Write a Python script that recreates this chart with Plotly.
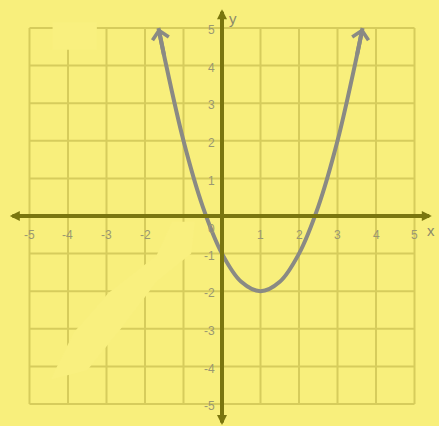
import plotly.graph_objects as go

# Data
grid_values = [-5, -4, -3, -2, -1, 0, 1, 2, 3, 4, 5]
x_tick_values = [-5, -4, -3, -2, 1, 2, 3, 4, 5]
x_tick_labels = ["-5", "-4", "-3", "-2", "1", "2", "3", "4", "5"]
y_tick_values = [5, 4, 3, 2, 1, -1, -2, -3, -4, -5]
y_tick_labels = ["5", "4", "3", "2", "1", "-1", "-2", "-3", "-4", "-5"]

curve_x = [-1.65, -1.5, -1.0, -0.5, 0.0, 0.5, 1.0, 1.5, 2.0, 2.5, 3.0, 3.5, 3.65]
curve_y = [5.0, 4.25, 2.0, 0.25, -1.0, -1.75, -2.0, -1.75, -1.0, 0.25, 2.0, 4.25, 5.0]

x_axis_extent = [-5.55, 5.45]
y_axis_extent = [-5.6, 5.5]

# faded (erased) patches of the grid seen in the picture
patch_band_x = [-0.7, -0.8, -1.7, -2.55, -3.5, -4.45, -3.85, -2.95, -1.7, -1.3]
patch_band_y = [-0.15, -1.0, -1.75, -2.9, -4.1, -4.35, -3.1, -2.05, -1.05, -0.15]
patch_box_x = [-4.4, -3.25]
patch_box_y = [4.42, 5.15]

BG = "#f8ef7c"
PATCH = "#f9f07f"
GRID = "#d6cc5c"
AXIS = "#7a760f"
CURVE = "#8a8a84"
LABEL = "#9a9872"

fig = go.Figure()

shapes = []
for v in grid_values:
    shapes.append(dict(type="line", x0=v, x1=v, y0=grid_values[0], y1=grid_values[-1],
                       xref="x", yref="y", line=dict(color=GRID, width=2), layer="below"))
    shapes.append(dict(type="line", y0=v, y1=v, x0=grid_values[0], x1=grid_values[-1],
                       xref="x", yref="y", line=dict(color=GRID, width=2), layer="below"))

band_path = "M " + " L ".join(f"{x},{y}" for x, y in zip(patch_band_x, patch_band_y)) + " Z"
shapes.append(dict(type="path", path=band_path, xref="x", yref="y", fillcolor=PATCH,
                   line=dict(width=0), layer="below"))
shapes.append(dict(type="rect", x0=patch_box_x[0], x1=patch_box_x[1], y0=patch_box_y[0], y1=patch_box_y[1],
                   xref="x", yref="y", fillcolor=PATCH, line=dict(width=0), layer="below"))

fig.add_trace(go.Scatter(x=curve_x, y=curve_y, mode="lines", line=dict(color=CURVE, width=4, shape="spline"),
                         hoverinfo="skip", showlegend=False))

annotations = []
# axes with arrows on both ends
annotations.append(dict(x=x_axis_extent[1], y=0, ax=x_axis_extent[0], ay=0, xref="x", yref="y",
                        axref="x", ayref="y", text="", showarrow=True, arrowside="end+start",
                        arrowhead=2, startarrowhead=2, arrowsize=0.5, startarrowsize=0.5,
                        arrowwidth=4, arrowcolor=AXIS))
annotations.append(dict(x=0, y=y_axis_extent[1], ax=0, ay=y_axis_extent[0], xref="x", yref="y",
                        axref="x", ayref="y", text="", showarrow=True, arrowside="end+start",
                        arrowhead=2, startarrowhead=2, arrowsize=0.5, startarrowsize=0.5,
                        arrowwidth=4, arrowcolor=AXIS))
# curve end arrows
for tip, tail in [(0, 1), (-1, -2)]:
    annotations.append(dict(x=curve_x[tip], y=curve_y[tip], ax=curve_x[tail], ay=curve_y[tail],
                            xref="x", yref="y", axref="x", ayref="y", text="", showarrow=True,
                            arrowhead=4, arrowsize=0.8, arrowwidth=4, arrowcolor=CURVE))

font = dict(family="Liberation Sans, Arial, sans-serif", size=12, color=LABEL)
for v, t in zip(x_tick_values, x_tick_labels):
    annotations.append(dict(x=v, y=-0.5, text=t, showarrow=False, xref="x", yref="y", font=font))
for v, t in zip(y_tick_values, y_tick_labels):
    annotations.append(dict(x=-0.12, y=v - 0.06, text=t, showarrow=False, xref="x", yref="y",
                            xanchor="right", font=font))
annotations.append(dict(x=-0.12, y=-0.35, text="0", showarrow=False, xref="x", yref="y",
                        xanchor="right", font=font))
axis_font = dict(family="Liberation Sans, Arial, sans-serif", size=15, color="#8c8a6a")
annotations.append(dict(x=5.42, y=-0.38, text="x", showarrow=False, xref="x", yref="y",
                        xanchor="center", font=axis_font))
annotations.append(dict(x=0.12, y=5.25, text="y", showarrow=False, xref="x", yref="y",
                        xanchor="left", font=axis_font))

fig.update_layout(
    width=439, height=426,
    margin=dict(l=0, r=0, t=0, b=0),
    paper_bgcolor=BG, plot_bgcolor=BG,
    xaxis=dict(range=[-5.766, 5.636], visible=False, fixedrange=True),
    yaxis=dict(range=[-5.585, 5.745], visible=False, fixedrange=True),
    shapes=shapes,
    annotations=annotations,
    showlegend=False,
)

fig.write_html("out.html", config={"displayModeBar": False},
               post_script="document.body.style.margin='0';document.body.style.background='" + BG + "';")
